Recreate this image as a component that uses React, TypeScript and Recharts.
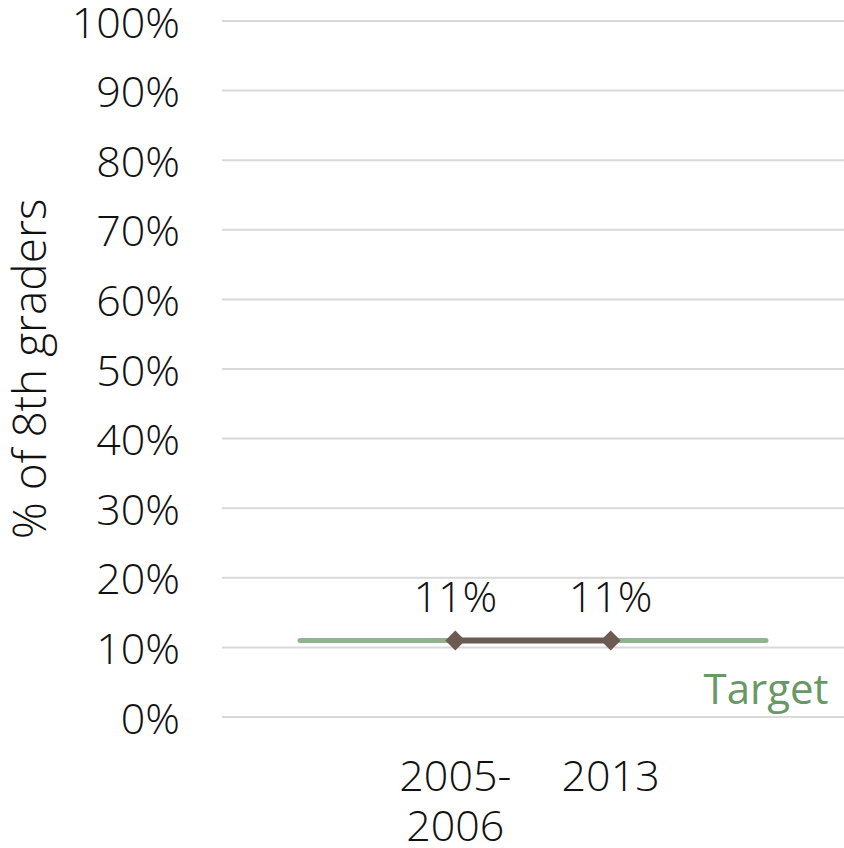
import { LineChart, Line, XAxis, YAxis, CartesianGrid, LabelList } from 'recharts';

const categories = ['', '2005-2006', '2013', ''];
const actualValues = [null, 11, 11, null];
const targetValues = [11, 11, 11, 11];
const yTicks = [0, 10, 20, 30, 40, 50, 60, 70, 80, 90, 100];

const data = categories.map((c, i) => ({ year: c, actual: actualValues[i], target: targetValues[i] }));

const FONT = '"Open Sans", sans-serif';
const TEXT = '#111111';
const WEIGHT = 300;

const YTick = (props: any) => {
  const { x, y, payload } = props;
  return (
    <text x={x} y={y} textAnchor="end" dominantBaseline="central" fontFamily={FONT} fontWeight={WEIGHT} fontSize={43} fill={TEXT}>
      {payload.value + '%'}
    </text>
  );
};

const XTick = (props: any) => {
  const { x, y, payload } = props;
  if (!payload.value) return null;
  const parts = payload.value.includes('-') ? [payload.value.split('-')[0] + '-', payload.value.split('-')[1]] : [payload.value];
  return (
    <text x={x} y={y} textAnchor="middle" fontFamily={FONT} fontWeight={WEIGHT} fontSize={43} fill={TEXT}>
      {parts.map((p: string, i: number) => (
        <tspan key={i} x={x} dy={i === 0 ? 72 : 50}>{p}</tspan>
      ))}
    </text>
  );
};

const Diamond = (props: any) => {
  const { cx, cy, value } = props;
  if (value == null || cx == null) return null;
  const s = 10;
  return <polygon points={`${cx},${cy - s} ${cx + s},${cy} ${cx},${cy + s} ${cx - s},${cy}`} fill="#6b5b52" />;
};

const TargetLabel = (props: any) => {
  const { x, y, index } = props;
  if (index !== categories.length - 1) return null;
  return (
    <text x={x} y={y + 64} textAnchor="middle" fontFamily={FONT} fontWeight={400} fontSize={42} fill="#679866">
      Target
    </text>
  );
};

const YLabel = (props: any) => {
  const { viewBox } = props;
  const cy = viewBox.y + viewBox.height / 2;
  return (
    <text x={28} y={cy} transform={`rotate(-90, 28, ${cy})`} textAnchor="middle" dominantBaseline="central" fontFamily={FONT} fontWeight={WEIGHT} fontSize={46} fill={TEXT}>
      % of 8th graders
    </text>
  );
};

export default function App() {
  return (
    <div>
      <style>{`body{margin:0}`}</style>
      <LineChart width={844} height={848} data={data} margin={{ top: 21, right: 0, bottom: 0, left: 0 }}>
        <CartesianGrid vertical={false} stroke="#d9d9d9" strokeWidth={2} />
        <XAxis dataKey="year" height={131} padding={{ left: 78, right: 78 }} axisLine={{ stroke: '#d9d9d9', strokeWidth: 2 }} tickLine={false} tick={<XTick />} tickSize={0} interval={0} />
        <YAxis width={222} domain={[0, 100]} ticks={yTicks} axisLine={false} tickLine={false} tickSize={0} tickMargin={42} tick={<YTick />} label={<YLabel />} />
        <Line dataKey="target" stroke="#8fb48f" strokeWidth={5} strokeLinecap="round" dot={false} isAnimationActive={false}>
          <LabelList dataKey="target" content={<TargetLabel />} />
        </Line>
        <Line dataKey="actual" stroke="#6b5b52" strokeWidth={6} dot={<Diamond />} activeDot={false} isAnimationActive={false} connectNulls={false}>
          <LabelList dataKey="actual" position="top" offset={28} formatter={(v: any) => (v == null ? '' : v + '%')} fontFamily={FONT} fontWeight={WEIGHT} fontSize={43} fill={TEXT} />
        </Line>
      </LineChart>
    </div>
  );
}
